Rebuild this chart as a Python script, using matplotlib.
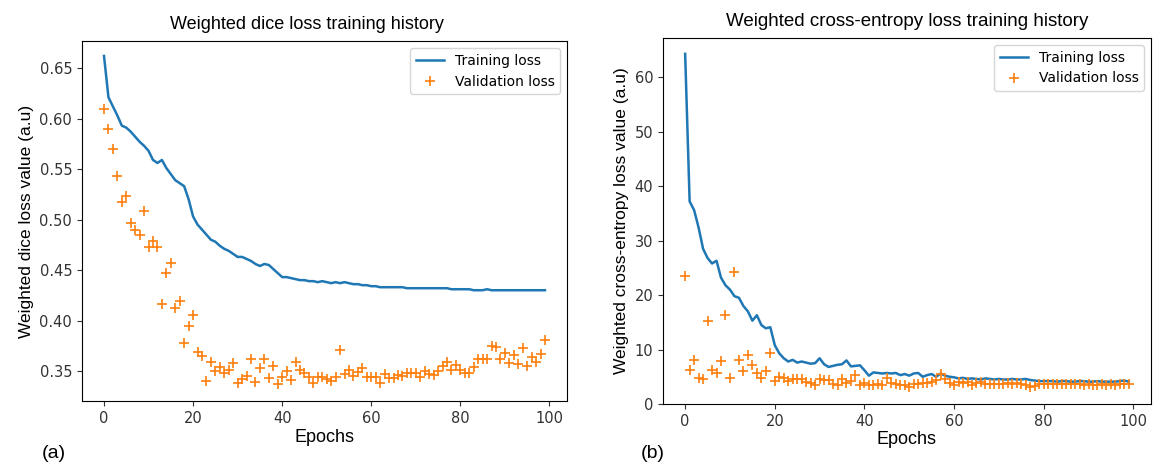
import numpy as np
import matplotlib
matplotlib.use("Agg")
import matplotlib.pyplot as plt

# ---------------- data ----------------
epochs = np.arange(100)

dice_train = [
    0.662, 0.621, 0.612, 0.603, 0.593, 0.591, 0.587, 0.582, 0.577, 0.573,
    0.568, 0.559, 0.556, 0.559, 0.551, 0.545, 0.539, 0.536, 0.533, 0.520,
    0.503, 0.495, 0.490, 0.485, 0.480, 0.478, 0.474, 0.471, 0.469, 0.466,
    0.463, 0.463, 0.461, 0.459, 0.456, 0.454, 0.456, 0.455, 0.451, 0.447,
    0.443, 0.443, 0.442, 0.441, 0.440, 0.440, 0.439, 0.439, 0.438, 0.439,
    0.438, 0.437, 0.438, 0.437, 0.438, 0.437, 0.436, 0.436, 0.435, 0.435,
    0.434, 0.434, 0.433, 0.433, 0.433, 0.433, 0.433, 0.433, 0.432, 0.432,
    0.432, 0.432, 0.432, 0.432, 0.432, 0.432, 0.432, 0.432, 0.431, 0.431,
    0.431, 0.431, 0.431, 0.430, 0.430, 0.430, 0.431, 0.430, 0.430, 0.430,
    0.430, 0.430, 0.430, 0.430, 0.430, 0.430, 0.430, 0.430, 0.430, 0.430,
]
dice_val = [
    0.609, 0.590, 0.570, 0.543, 0.517, 0.523, 0.497, 0.490, 0.485, 0.508,
    0.473, 0.479, 0.473, 0.416, 0.447, 0.457, 0.412, 0.419, 0.378, 0.395,
    0.405, 0.369, 0.365, 0.340, 0.359, 0.350, 0.354, 0.348, 0.351, 0.358,
    0.338, 0.342, 0.345, 0.362, 0.339, 0.353, 0.362, 0.343, 0.355, 0.337,
    0.344, 0.350, 0.341, 0.359, 0.351, 0.348, 0.344, 0.338, 0.344, 0.344,
    0.342, 0.340, 0.344, 0.371, 0.347, 0.351, 0.345, 0.349, 0.353, 0.344,
    0.344, 0.344, 0.338, 0.347, 0.343, 0.343, 0.346, 0.345, 0.348, 0.348,
    0.348, 0.344, 0.350, 0.347, 0.346, 0.350, 0.355, 0.359, 0.351, 0.356,
    0.351, 0.348, 0.348, 0.354, 0.362, 0.362, 0.362, 0.375, 0.374, 0.362,
    0.368, 0.358, 0.366, 0.357, 0.373, 0.355, 0.364, 0.359, 0.367, 0.381,
]

ce_train = [
    64.3, 37.2, 35.6, 32.4, 28.5, 26.8, 25.8, 26.3, 23.2, 21.8,
    21.0, 19.8, 19.5, 18.0, 17.0, 15.3, 16.3, 14.5, 13.9, 14.1,
    10.8, 9.3, 8.4, 7.8, 8.1, 7.6, 7.8, 7.6, 7.4, 7.5,
    8.4, 7.3, 6.8, 7.0, 7.2, 7.3, 8.0, 6.9, 7.0, 7.1,
    6.2, 5.2, 5.8, 5.7, 5.6, 5.7, 5.6, 5.7, 5.3, 5.5,
    5.2, 5.6, 5.7, 5.0, 5.3, 5.5, 5.0, 5.6, 5.2, 5.0,
    4.9, 4.7, 4.8, 4.6, 4.7, 4.6, 4.5, 4.7, 4.6, 4.5,
    4.6, 4.5, 4.5, 4.6, 4.5, 4.5, 4.6, 4.4, 4.3, 4.2,
    4.2, 4.2, 4.2, 4.1, 4.2, 4.2, 4.1, 4.1, 4.2, 4.2,
    4.1, 4.1, 4.2, 4.1, 4.1, 4.1, 4.1, 4.2, 4.3, 4.1,
]
ce_val = [
    23.5, 6.2, 8.0, 4.8, 4.5, 15.2, 6.3, 5.6, 7.9, 16.4,
    4.7, 24.2, 8.0, 6.0, 9.0, 7.2, 5.7, 4.8, 6.0, 9.3,
    4.3, 5.0, 4.8, 4.3, 4.6, 4.5, 4.6, 4.0, 3.9, 3.5,
    4.6, 4.4, 4.4, 3.6, 3.5, 4.6, 3.9, 4.3, 5.3, 3.4,
    3.9, 3.5, 3.4, 3.7, 3.5, 4.8, 3.8, 3.7, 3.5, 3.4,
    3.2, 3.6, 3.7, 3.8, 3.8, 4.0, 4.4, 5.5, 4.6, 3.9,
    3.4, 4.1, 3.9, 4.0, 3.5, 3.9, 4.0, 3.6, 3.7, 3.7,
    3.6, 3.6, 3.8, 3.7, 3.9, 3.6, 3.5, 3.2, 3.3, 3.6,
    3.7, 3.7, 3.6, 3.7, 3.6, 3.6, 3.7, 3.6, 3.6, 3.5,
    3.6, 3.5, 3.5, 3.6, 3.5, 3.6, 3.5, 3.6, 3.7, 3.6,
]

# ---------------- figure ----------------
label_font = ["Liberation Sans", "DejaVu Sans"]

fig = plt.figure(figsize=(11.56, 4.65), dpi=100)
ax1 = fig.add_axes([0.0709, 0.1376, 0.4196, 0.774])
ax2 = fig.add_axes([0.5735, 0.1312, 0.4222, 0.787])


def draw(ax, train, val, title, ylabel, title_size, title_x):
    ax.plot(epochs, train, color="#1f77b4", lw=1.8, label="Training loss")
    ax.plot(epochs, val, "+", color="#ff7f0e", ms=7, mew=1.2, label="Validation loss")
    ax.set_title(title, family=label_font, fontsize=title_size, pad=9, x=title_x)
    ax.set_xlabel("Epochs", family=label_font, fontsize=13, labelpad=2)
    ax.set_ylabel(ylabel, family=label_font, fontsize=12.5)
    ax.set_xticks([0, 20, 40, 60, 80, 100])
    ax.tick_params(labelsize=10.5, colors="#333333")
    ax.legend(loc="upper right", fontsize=10)


draw(ax1, dice_train, dice_val, "Weighted dice loss training history",
     "Weighted dice loss value (a.u)", 13, 0.464)
ax1.set_yticks([0.35, 0.40, 0.45, 0.50, 0.55, 0.60, 0.65])
ax1.set_ylim(0.3203, 0.6767)

draw(ax2, ce_train, ce_val, "Weighted cross-entropy loss training history",
     "Weighted cross-entropy loss value (a.u)", 13.5, 0.5)
ax2.set_yticks([0, 10, 20, 30, 40, 50, 60])
ax2.set_ylim(0, 67.2)

fig.text(0.036, 0.016, "(a)", family=label_font, fontsize=14)
fig.text(0.554, 0.016, "(b)", family=label_font, fontsize=14)

fig.savefig("out.png", dpi=100)
